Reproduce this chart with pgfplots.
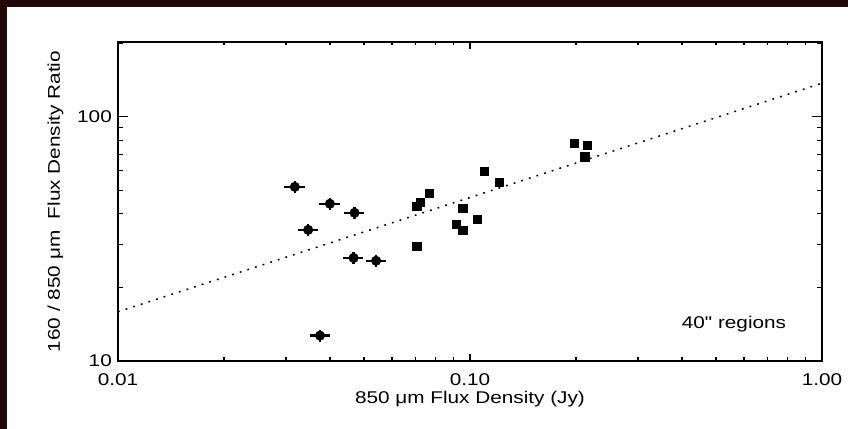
\documentclass[border=0pt]{standalone}
\usepackage{fontspec}
\setmainfont{Liberation Sans}[FakeStretch=1.22]
\newfontfamily\plainfont[FakeStretch=1.22]{Liberation Sans}
\usepackage{pgfplots}
\pgfplotsset{compat=1.18}
\definecolor{bgdark}{RGB}{35,6,6}
\begin{document}
\fontsize{17bp}{20bp}\selectfont
\begin{tikzpicture}
\fill[bgdark] (0,0) rectangle (848bp,429bp);
\fill[white] (7bp,0) rectangle (848bp,422bp);
\begin{axis}[
  at={(118bp,68bp)}, anchor=south west,
  scale only axis, width=704bp, height=319bp,
  xmode=log, ymode=log,
  xmin=0.01, xmax=1, ymin=10, ymax=202,
  axis line style={line width=1.4bp},
  tick style={line width=1.2bp, black},
  tick align=inside,
  xtick={0.01,0.1,1}, xticklabels={0.01,0.10,1.00},
  minor xtick={0.02,0.03,0.04,0.05,0.06,0.07,0.08,0.09,0.2,0.3,0.4,0.5,0.6,0.7,0.8,0.9},
  ytick={10,100}, yticklabels={10,100},
  minor ytick={20,30,40,50,60,70,80,90,200},
  xtick style={/pgfplots/major tick length=7bp, /pgfplots/minor tick length=3.5bp},
  ytick style={/pgfplots/major tick length=10bp, /pgfplots/minor tick length=5bp},
  xticklabel style={inner sep=0pt, anchor=north, yshift=-12bp},
  yticklabel style={inner sep=0pt, anchor=east, xshift=-6bp},
  xlabel={850 μm Flux Density (Jy)},
  xlabel style={at={(axis description cs:0.5,-0.1348)}, anchor=base, inner sep=0pt},
  ylabel={160 / 850 μm\ \ Flux Density Ratio},
  ylabel style={at={(axis description cs:-0.0824,0.5)}, anchor=base, inner sep=0pt},
  clip=false,
]
\addplot[black, line width=1.5bp, dash pattern=on 1.8bp off 6.2bp] coordinates {(0.01,15.9) (1,137)};
\addplot[only marks, mark=*, mark size=4.8bp, black,
  error bars/.cd, x dir=both, x explicit relative, y dir=both, y explicit relative,
  error mark=none, error bar style={line width=2.5bp, black}]
  coordinates {
  (0.0318,51.6) +- (0.066,0.058)
  (0.0347,34.4) +- (0.066,0.058)
  (0.0400,44.0) +- (0.066,0.058)
  (0.0470,40.4) +- (0.066,0.058)
  (0.0467,26.4) +- (0.066,0.058)
  (0.0541,25.7) +- (0.066,0.058)
  (0.0375,12.7) +- (0.066,0.058)
  };
\addplot[only marks, mark=square*, mark size=4.1bp, black] coordinates {
  (0.0706,42.9) (0.0721,44.6) (0.0764,48.5) (0.0706,29.6)
  (0.0954,42.3) (0.0912,36.4) (0.0954,34.2) (0.1049,38.1)
  (0.1097,59.7) (0.1211,54.0) (0.198,77.8) (0.2155,76.2) (0.2118,68.5)
  };
\node[anchor=base, inner sep=0pt] at (axis description cs:0.875,0.1034) {\plainfont 40\char34{} regions};
\end{axis}
\pgfresetboundingbox
\useasboundingbox (0,0) rectangle (848bp,429bp);
\end{tikzpicture}
\end{document}
